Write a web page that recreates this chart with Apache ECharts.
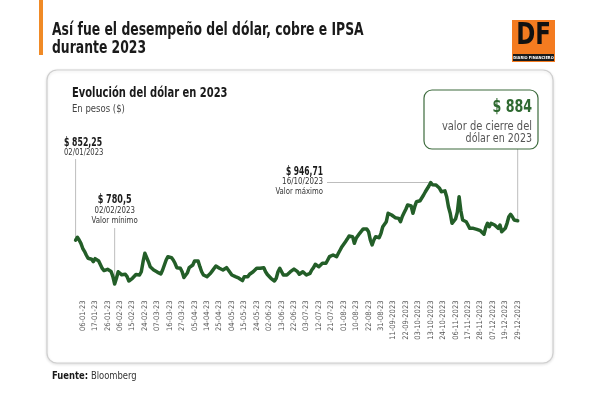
<!DOCTYPE html>
<html>
<head>
<meta charset="utf-8">
<script src="https://cdn.jsdelivr.net/npm/echarts@6/dist/echarts.min.js"></script>
<style>
  html, body { margin: 0; padding: 0; background: #fff; }
  #chart { width: 600px; height: 394px; }
</style>
</head>
<body>
<div id="chart"></div>
<script>
const usdClp = [
  852.25, 857, 852.5, 847, 839, 834, 828, 822.6, 821.5, 821,
  817, 822, 825.2, 818.2, 816, 806, 802.5, 802, 804.5, 806,
  801, 792.5, 780.5, 790, 800.6, 801.8, 795.5, 798, 796.4, 792.5,
  785.4, 787, 789.8, 789, 796, 798, 795.2, 800.6, 817, 830.8,
  828, 817, 808.8, 811.6, 803.4, 800.6, 800, 798, 797, 803.4,
  806.2, 819.8, 825.2, 826.8, 823.6, 819.8, 814.4, 807.2, 808.8, 806.2,
  800.6, 791, 792, 799, 807.2, 806.2, 811.6, 818.2, 819.8, 818.2,
  808.8, 800.6, 795.2, 796.4, 792.5, 795.2, 798, 802, 805, 810,
  808.8, 806.2, 807.2, 803.4, 806.2, 807.2, 803.4, 800.6, 795.2, 792.5,
  792.5, 789.8, 790, 791, 786, 792.5, 795.2, 792.5, 796.4, 798,
  800.6, 803.4, 806.2, 803.4, 806.2, 806.2, 807.2, 800.6, 796, 794,
  789.8, 787, 785.4, 789.8, 800.6, 806.2, 803.4, 795.2, 792.5, 795.2,
  795.2, 800.6, 803.4, 805, 806, 800.6, 796.4, 798, 800.6, 798,
  795.2, 796.4, 798, 803.4, 807.2, 812.7, 812.7, 808.8, 812, 814.4,
  813, 814.4, 819.8, 825.2, 828, 828, 826.8, 825.2, 830.8, 836.2,
  841.6, 844.4, 849.8, 854, 859, 862, 858, 847.1, 855.3, 858,
  863.5, 863.5, 870.6, 868.9, 870.6, 866.1, 852.6, 844.4, 852.6, 858,
  855.3, 856.3, 863.5, 874.3, 877.1, 882.5, 896.3, 897.9, 893.5, 892.3,
  889.1, 890.7, 888, 882.5, 891, 897, 903, 909.9, 912.6, 908.2,
  896.3, 907.1, 915.3, 918, 916.9, 915.3, 926.2, 931.6, 934.4, 941,
  946.71, 943, 944, 942.6, 942.6, 937.2, 931.6, 929, 933, 923.5,
  907.1, 896.3, 879.9, 877.1, 887, 898, 923.5, 900, 885.3, 888,
  882.5, 877.1, 871.7, 874.3, 871.7, 871.7, 870, 868.9, 867.8, 866.1,
  862, 873, 879.9, 874.3, 879.9, 882.5, 877.1, 874.3, 871.7, 877.1,
  866.1, 868.9, 871.7, 879.9, 890.7, 894.6, 890.7, 885.3, 885.3, 884
];

// etiquetas del eje x (una cada 7 días hábiles, empezando en el 5º día)
const tickLabels = [
  "06-01-23", "17-01-23", "26-01-23", "06-02-23", "15-02-23", "24-02-23",
  "07-03-23", "16-03-23", "27-03-23", "05-04-23", "14-04-23", "25-04-23",
  "04-05-23", "15-05-23", "24-05-23", "02-06-23", "13-06-23", "22-06-23",
  "03-07-23", "12-07-23", "21-07-23", "01-08-23", "10-08-23", "22-08-23",
  "31-08-23", "11-09-2023", "22-09-2023", "03-10-2023", "13-10-2023", "24-10-2023",
  "06-11-2023", "17-11-2023", "28-11-2023", "07-12-2023", "19-12-2023", "29-12-2023"
];
const TICK_START = 4;
const TICK_STEP = 7;

const categories = usdClp.map((v, i) => String(i));

// anotaciones
const firstNote = { idx: 0, value: "$ 852,25", date: "02/01/2023" };
const minNote = { idx: 22, value: "$ 780,5", date: "02/02/2023", tag: "Valor mínimo" };
const maxNote = { idx: 200, value: "$ 946,71", date: "16/10/2023", tag: "Valor máximo" };
const closeNote = { idx: 249, value: "$ 884", lines: ["valor de cierre del", "dólar en 2023"] };

const FONT = '"DejaVu Sans Condensed", "Roboto", sans-serif';
const GREEN = "#235e28";
const GRAY_LINE = "#bdbdbd";

const chart = echarts.init(document.getElementById('chart'), null, { renderer: 'canvas' });

var option = {
  backgroundColor: "#ffffff",
  animation: false,
  grid: {
    left: 75.6,
    right: 82.3,
    top: 174.4,
    bottom: 97.5,
  },
  xAxis: {
    type: "category",
    boundaryGap: false,
    data: categories,
    axisLine: { show: false },
    axisTick: { show: false },
    splitLine: { show: false },
    axisLabel: {
      rotate: 90,
      margin: 4,
      fontSize: 7.5,
      color: "#555",
      fontFamily: FONT,
      interval: function (index) {
        return index >= TICK_START && (index - TICK_START) % TICK_STEP === 0;
      },
      formatter: function (value, index) {
        const k = (index - TICK_START) / TICK_STEP;
        return tickLabels[k] || "";
      },
    },
  },
  yAxis: {
    type: "value",
    min: 760,
    max: 960,
    show: false,
  },
  series: [
    {
      name: "Dólar",
      type: "line",
      data: usdClp,
      showSymbol: false,
      symbol: "none",
      z: 5,
      lineStyle: {
        color: GREEN,
        width: 3.5,
        join: "round",
        cap: "round",
      },
    },
  ],
};

chart.setOption(option);

// posiciones de puntos a partir de la escala del gráfico
function pt(idx) {
  return chart.convertToPixel({ gridIndex: 0 }, [idx, usdClp[idx]]);
}
const pFirst = pt(firstNote.idx);
const pMin = pt(minNote.idx);
const pMax = pt(maxNote.idx);
const pClose = pt(closeNote.idx);

// texto angosto: se comprime en x para imitar la tipografía condensada
function txt(x, y, text, font, fill, align, sx) {
  return {
    type: "text",
    x: x,
    y: y,
    z: 20,
    scaleX: sx || 1,
    style: {
      text: text,
      font: font,
      fill: fill,
      align: align || "left",
      verticalAlign: "top",
    },
  };
}
function seg(x1, y1, x2, y2) {
  return {
    type: "line",
    z: 3,
    shape: { x1: x1, y1: y1, x2: x2, y2: y2 },
    style: { stroke: GRAY_LINE, lineWidth: 1 },
  };
}

const graphics = [
  // barra naranja y título
  { type: "rect", z: 1, shape: { x: 39, y: 0, width: 4, height: 55 }, style: { fill: "#f08a26" } },
  txt(52, 22, "Así fue el desempeño del dólar, cobre e IPSA", "bold 17px " + FONT, "#1a1a1a", "left", 0.81),
  txt(52, 40, "durante 2023", "bold 17px " + FONT, "#1a1a1a", "left", 0.81),
  // logo DF
  { type: "rect", z: 1, shape: { x: 512, y: 20, width: 43, height: 42 }, style: { fill: "#f47b20" } },
  txt(533.5, 21, "DF", "bold 30px " + FONT, "#111", "center", 0.85),
  { type: "rect", z: 2, shape: { x: 513, y: 54, width: 41, height: 7 }, style: { fill: "#1a1a1a" } },
  txt(533.5, 55.5, "DIARIO FINANCIERO", "bold 4px " + FONT, "#fff", "center"),
  // tarjeta
  {
    type: "rect", z: 0,
    shape: { x: 47, y: 70, width: 506, height: 293, r: 10 },
    style: { fill: "#fff", stroke: "#cfcfcf", lineWidth: 1.2, shadowBlur: 3, shadowColor: "rgba(0,0,0,0.12)", shadowOffsetY: 1 },
  },
  txt(72, 86, "Evolución del dólar en 2023", "bold 14px " + FONT, "#1a1a1a", "left", 0.79),
  txt(72, 104, "En pesos ($)", "10.5px " + FONT, "#444", "left", 0.9),

  // primer valor
  txt(64, 137, firstNote.value, "bold 12px " + FONT, "#1a1a1a", "left", 0.72),
  txt(64, 148, firstNote.date, "9.5px " + FONT, "#333", "left", 0.8),
  seg(pFirst[0], 159, pFirst[0], pFirst[1] - 3),

  // mínimo
  txt(pMin[0], 193, minNote.value, "bold 12.5px " + FONT, "#1a1a1a", "center", 0.72),
  txt(pMin[0], 206, minNote.date, "9.5px " + FONT, "#333", "center", 0.82),
  txt(pMin[0], 216, minNote.tag, "9.5px " + FONT, "#333", "center", 0.82),
  seg(pMin[0], 228, pMin[0], pMin[1] - 2),

  // máximo
  txt(323, 166, maxNote.value, "bold 12px " + FONT, "#1a1a1a", "right", 0.7),
  txt(323, 177, maxNote.date, "9.5px " + FONT, "#333", "right", 0.83),
  txt(323, 187, maxNote.tag, "9.5px " + FONT, "#333", "right", 0.81),
  seg(327, pMax[1], pMax[0] - 2, pMax[1]),

  // cierre
  {
    type: "rect", z: 4,
    shape: { x: 424, y: 90, width: 114, height: 59, r: 8 },
    style: { fill: "#fff", stroke: "#3d6b3d", lineWidth: 1.2 },
  },
  txt(532, 98, closeNote.value, "bold 18px " + FONT, "#2f6a31", "right", 0.78),
  txt(532, 121, closeNote.lines[0], "11.5px " + FONT, "#555", "right", 0.96),
  txt(532, 133, closeNote.lines[1], "11.5px " + FONT, "#555", "right", 0.92),
  seg(pClose[0], 149, pClose[0], pClose[1] - 2),

  // fuente
  {
    type: "text", x: 52, y: 370, z: 20, scaleX: 0.85,
    style: {
      text: "{b|Fuente:} {r|Bloomberg}",
      verticalAlign: "top",
      rich: {
        b: { font: "bold 11px " + FONT, fill: "#1a1a1a" },
        r: { font: "11px " + FONT, fill: "#333" },
      },
    },
  },
];

chart.setOption({ graphic: { elements: graphics } });
</script>
</body>
</html>
